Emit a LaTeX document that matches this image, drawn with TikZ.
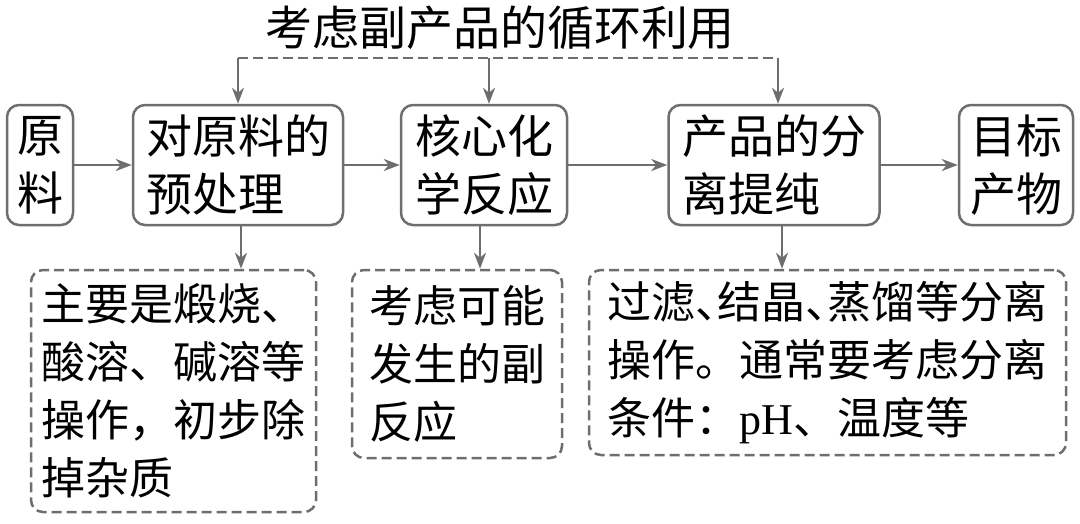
\documentclass[tikz,border=0pt]{standalone}
\usepackage{fontspec}
\setmainfont{Noto Sans CJK SC}
\newfontfamily\latinfont{Liberation Serif}
\usetikzlibrary{arrows.meta}
\definecolor{linegray}{RGB}{110,110,110}
\newcommand{\halfdun}{\makebox[0.5em][l]{、}}

\def\boxheight{120pt}
\def\liney{58}

\begin{document}
\begin{tikzpicture}[x=1pt,y=-1pt,
% Here are defined the boxes, notes and arrows
bloc/.style={
rectangle, rounded corners=12pt,
draw=linegray, line width=2.5pt, inner sep=0,
minimum height=\boxheight, align=left,
font=\fontsize{46pt}{58pt}\selectfont },
note/.style={
bloc, dash pattern=on 10pt off 5pt,
font=\fontsize{44pt}{58pt}\selectfont },
arrow/.style={
draw=linegray, line width=2.5pt,
-{Stealth[length=16pt,width=12pt,inset=5pt]} },
loopline/.style={
draw=linegray, line width=2.5pt,
dash pattern=on 10pt off 5pt },
title/.style={
font=\fontsize{47pt}{58pt}\selectfont },
]
\useasboundingbox (0,0) rectangle (1080,523);

%%%%%%%%%%%%%%%%%%%%%%%%
%%% THE MAIN CHAIN
%%%%%%%%%%%%%%%%%%%%%%%%
\node[bloc, minimum width=66pt] (raw) at (40,165) {原\\料};
\node[bloc, minimum width=210pt] (pre) at (238,165) {对原料的\\预处理};
\node[bloc, minimum width=166pt] (core) at (484,165) {核心化\\学反应};
\node[bloc, minimum width=211pt] (sep) at (774,165) {产品的分\\离提纯};
\node[bloc, minimum width=114pt] (prod) at (1016,165) {目标\\产物};

\draw[arrow] (raw) -- (pre);
\draw[arrow] (pre) -- (core);
\draw[arrow] (core) -- (sep);
\draw[arrow] (sep) -- (prod);

%%%% The recycling line on top
\node[title] (loop) at (500,28) {考虑副产品的循环利用};
\coordinate (lpre) at (238,\liney);
\coordinate (lcore) at (489,\liney);
\coordinate (lsep) at (778,\liney);
\draw[loopline] (lpre) -- (lsep);
\draw[arrow] (lpre) -- (lpre |- pre.north);
\draw[arrow] (lcore) -- (lcore |- core.north);
\draw[arrow] (lsep) -- (lsep |- sep.north);

%%%% The 3 notes below
\node[note, minimum width=285pt, minimum height=242pt] (n1) at (173.5,391) {主要是煅烧、\\酸溶、碱溶等\\操作，初步除\\掉杂质};
\node[note, minimum width=210pt, minimum height=188pt] (n2) at (457,364) {考虑可能\\发生的副\\反应};
\node[note, minimum width=477pt, minimum height=185pt] (n3) at (827.5,362.5) {过滤\halfdun 结晶\halfdun 蒸馏等分离\\操作。通常要考虑分离\\条件：{\latinfont pH}、温度等};

\draw[arrow] ([xshift=3pt]pre.south) -- ([xshift=3pt]pre.south |- n1.north);
\draw[arrow] ([xshift=-4pt]core.south) -- ([xshift=-4pt]core.south |- n2.north);
\draw[arrow] ([xshift=8pt]sep.south) -- ([xshift=8pt]sep.south |- n3.north);

\end{tikzpicture}
\end{document}
